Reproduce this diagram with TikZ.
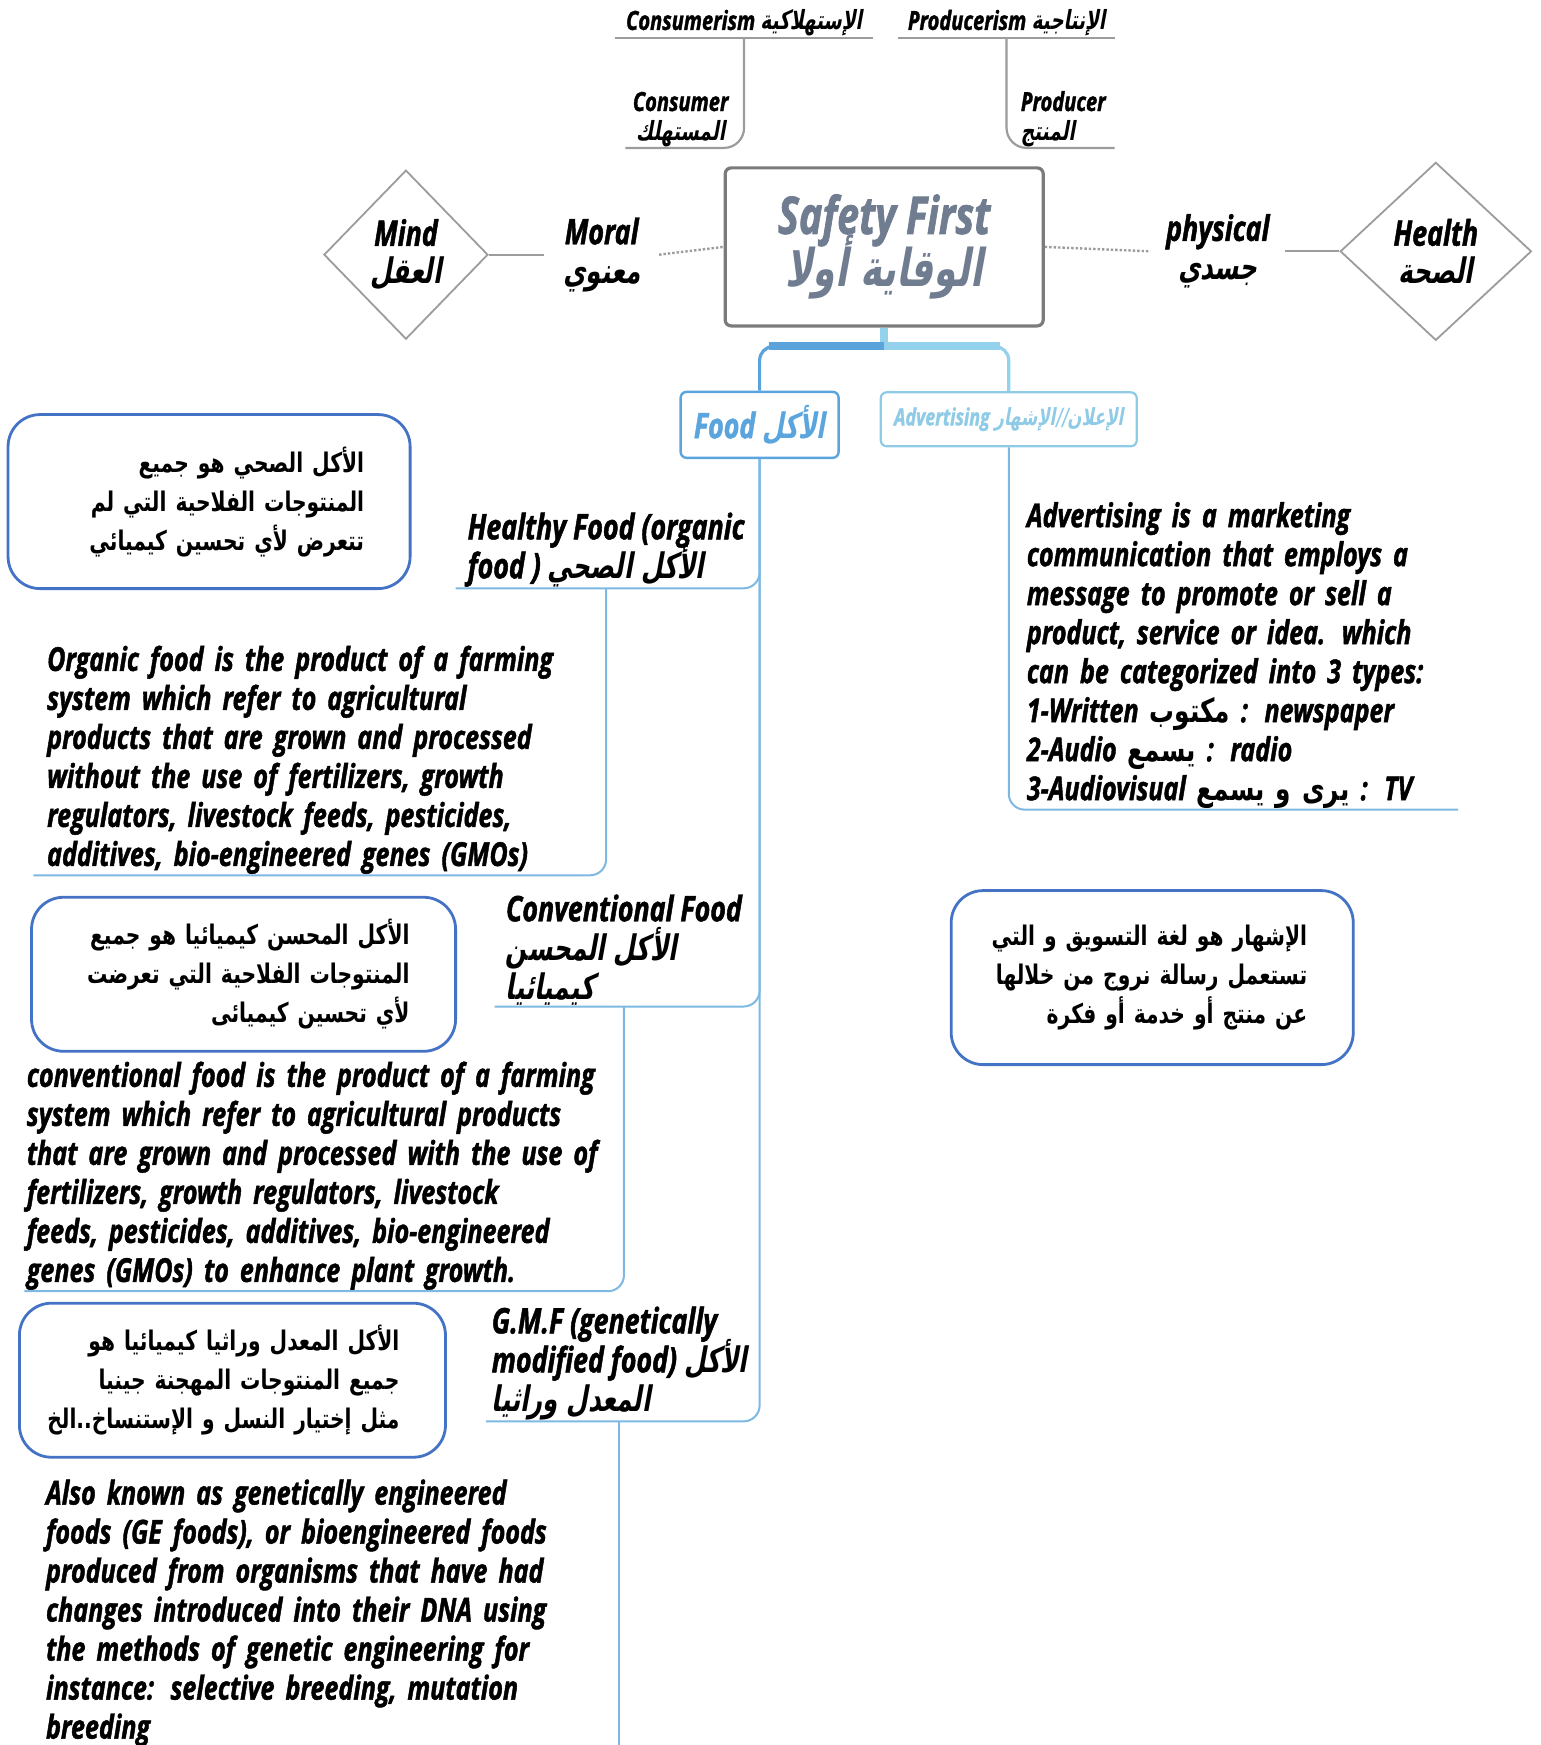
\documentclass[tikz,border=0pt]{standalone}
\usepackage{fontspec}
\usetikzlibrary{shapes.geometric,calc}
\setmainfont{Open Sans}
\newfontfamily\cond[FakeStretch=0.76,FakeBold=1.3]{Open Sans}
\newfontfamily\arabicfont[Script=Arabic,FakeStretch=0.75]{DejaVu Sans}
\newfontfamily\arabicslant[Script=Arabic,FakeSlant=0.18,FakeStretch=0.7]{DejaVu Sans}
\TeXXeTstate=1
\newcommand{\arb}[1]{{\arabicfont\bfseries\upshape\beginR #1\endR}}
\newcommand{\arsl}[1]{{\arabicslant\bfseries\upshape\beginR #1\endR}}
\newcommand{\arline}[1]{\mbox{\arb{#1}\kern17pt}}
\newcommand{\tightlines}{\lineskiplimit -20pt\relax}
\definecolor{boxblue}{HTML}{4472C4}
\definecolor{foodblue}{HTML}{5AA5DE}
\definecolor{advblue}{HTML}{8FCBE6}
\definecolor{branchblue}{HTML}{7DB9E2}
\definecolor{bardark}{HTML}{5BA4DB}
\definecolor{barlight}{HTML}{93D1EC}
\definecolor{greyline}{HTML}{9C9C9C}
\definecolor{safetygrey}{HTML}{7B7B7B}
\definecolor{safetytext}{HTML}{707D90}

\begin{document}
\begin{tikzpicture}[x=0.556pt,y=-0.556pt]
\tikzstyle{lbl} = [font={\cond\bfseries\itshape\fontsize{17.6}{19.5}\selectfont\tightlines}, align=center, inner xsep=2pt, inner ysep=0.5pt]
\tikzstyle{toplbl} = [font={\cond\bfseries\itshape\fontsize{13.2}{14.5}\selectfont\tightlines}, inner xsep=3pt, inner ysep=0.5pt]
\tikzstyle{para} = [font={\cond\bfseries\itshape\fontsize{16.5}{19.5}\selectfont\tightlines}, align=left, inner ysep=0.5pt]
\tikzstyle{arbox} = [rectangle, draw=boxblue, line width=1.4pt, rounded corners=16pt, align=right,
inner xsep=6pt, font={\fontsize{13.5}{19.5}\selectfont\tightlines}]
\tikzstyle{diam} = [diamond, draw=greyline, line width=0.9pt, inner sep=0pt, align=center,
font={\cond\bfseries\itshape\fontsize{17.6}{19}\selectfont\tightlines}]
\tikzstyle{topline} = [draw=greyline, line width=1.1pt]
\tikzstyle{branch} = [draw=branchblue, line width=1pt]
\fill[white] (0,0) rectangle (1385,1569);
\useasboundingbox (0,0) rectangle (1385,1569);

% top
\node[toplbl, anchor=south, minimum width=129pt] (consumerism) at (669,34) {Consumerism \arsl{الإستهلاكية}};
\node[toplbl, anchor=south, minimum width=108pt] (producerism) at (905,34) {Producerism \arsl{الإنتاجية}};
\node[toplbl, anchor=south, minimum width=55pt, align=center] (consumer) at (612,133) {Consumer\\\arsl{المستهلك}};
\node[toplbl, anchor=south, minimum width=51pt, align=left] (producer) at (956,133) {Producer\\\arsl{المنتج}};

% middle row
\node[rectangle, draw=safetygrey, line width=1.6pt, rounded corners=3pt, minimum width=159pt,
minimum height=79pt, align=center, text=safetytext,
font={\cond\bfseries\itshape\fontsize{26}{26.5}\selectfont\tightlines}] (safety) at (795,222) {Safety First\\\arsl{الوقاية أولا}};
\node[diam, minimum width=82pt, minimum height=84.5pt] (mind) at (365,229) {Mind\\\arsl{العقل}};
\node[lbl, minimum width=57pt] (moral) at (541,229) {Moral\\\arsl{معنوي}};
\node[lbl, minimum width=67pt] (physical) at (1095,226) {physical\\\arsl{جسدي}};
\node[diam, minimum width=95.6pt, minimum height=89pt] (health) at (1291,226) {Health\\\arsl{الصحة}};

% branches
\node[rectangle, draw=foodblue, line width=1.2pt, rounded corners=3pt, minimum width=79pt,
minimum height=33pt, text=foodblue, font={\cond\bfseries\itshape\fontsize{17.6}{20}\selectfont}] (food) at (683,382) {Food \arsl{الأكل}};
\node[rectangle, draw=advblue, line width=1.1pt, rounded corners=3pt, minimum width=128pt,
minimum height=27pt, text=advblue, font={\cond\bfseries\itshape\fontsize{11.8}{14}\selectfont}] (advert) at (907,377) {Advertising \arsl{الإعلان//الإشهار}};

% food column
\node[lbl, align=left, anchor=south, minimum width=150pt] (healthy) at (545,529) {Healthy Food (organic\\food ) \arsl{الأكل الصحي}};
\node[para, anchor=south west, inner xsep=6.7pt, text width=271pt] (organic) at (30,787) {Organic food is the product of a farming\\
system which refer to agricultural\\
products that are grown and processed\\
without the use of fertilizers, growth\\
regulators, livestock feeds, pesticides,\\
additives, bio-engineered genes (GMOs)};
\node[arbox, text width=189pt, minimum height=87pt] (arHealthy) at (188,451) {\arline{الأكل الصحي هو جميع}\\
\arline{المنتوجات الفلاحية التي لم}\\
\arline{تتعرض لأي تحسين كيميائي}};

\node[lbl, align=left, anchor=south, minimum width=129pt] (conv) at (561,905) {Conventional Food\\\arsl{الأكل المحسن}\\\arsl{كيميائيا}};
\node[para, anchor=south west, inner xsep=1pt, text width=296pt] (convText) at (22,1161) {conventional food is the product of a farming\\
system which refer to agricultural products\\
that are grown and processed with the use of\\
fertilizers, growth regulators, livestock\\
feeds, pesticides, additives, bio-engineered\\
genes (GMOs) to enhance plant growth.};
\node[arbox, text width=200pt, minimum height=77pt] (arConv) at (219,876) {\arline{الأكل المحسن كيميائيا هو جميع}\\
\arline{المنتوجات الفلاحية التي تعرضت}\\
\arline{لأي تحسين كيميائى}};

\node[lbl, align=left, anchor=south, minimum width=133pt] (gmf) at (557,1278) {G.M.F (genetically\\modified food) \arsl{الأكل}\\\arsl{المعدل وراثيا}};
\node[para, anchor=north west, inner xsep=6.7pt, text width=272pt] (gmfText) at (29,1329) {Also known as genetically engineered\\
foods (GE foods), or bioengineered foods\\
produced from organisms that have had\\
changes introduced into their DNA using\\
the methods of genetic engineering for\\
instance: selective breeding, mutation\\
breeding};
\node[arbox, text width=201pt, minimum height=77pt] (arGmf) at (209,1241) {\arline{الأكل المعدل وراثيا كيميائيا هو}\\
\arline{جميع المنتوجات المهجنة جينيا}\\
\arline{مثل إختيار النسل و الإستنساخ..الخ}};
\coordinate (gmfEnd) at (556,1580);

% advertising column
\node[para, anchor=south west, inner xsep=4.4pt, text width=211pt] (advText) at (915,728) {Advertising is a marketing\\
communication that employs a\\
message to promote or sell a\\
product, service or idea. which\\
can be categorized into 3 types:\\
1-Written \arb{مكتوب} : newspaper\\
2-Audio \arb{يسمع} : radio\\
3-Audiovisual \arb{يرى و يسمع} : TV};
\node[arbox, text width=189pt, minimum height=87pt] (arAdv) at (1036,879) {\arline{الإشهار هو لغة التسويق و التي}\\
\arline{تستعمل رسالة نروج من خلالها}\\
\arline{عن منتج أو خدمة أو فكرة}};

% connectors
\draw[topline] (consumerism.south west) -- (consumerism.south east);
\draw[topline] (producerism.south west) -- (producerism.south east);
\draw[topline, rounded corners=10pt] (consumerism.south) |- (consumer.south west);
\draw[topline, rounded corners=10pt] (producerism.south) |- (producer.south east);
\draw[greyline, line width=0.9pt] (mind.east) -- (moral.west);
\draw[greyline, line width=1.2pt, densely dotted] (moral.east) -- (safety.west);
\draw[greyline, line width=1.2pt, densely dotted] (safety.east) -- (physical.west);
\draw[greyline, line width=0.9pt] (physical.east) -- (health.west);

\coordinate (fork) at ($(safety.south)+(0,17)$);
\draw[barlight, line width=4pt] (safety.south) -- (fork);
\draw[bardark, line width=1.6pt, rounded corners=7pt] (fork) -| (food.north);
\draw[barlight, line width=1.6pt, rounded corners=7pt] (fork) -| (advert.north);
\draw[bardark, line width=4pt] (fork) -- ($(fork -| food.north)+(8,0)$);
\draw[barlight, line width=4pt] (fork) -- ($(fork -| advert.north)+(-8,0)$);

\draw[branch, rounded corners=8pt] (food.south) |- (healthy.south west);
\draw[branch, rounded corners=8pt] (food.south) |- (conv.south west);
\draw[branch, rounded corners=8pt] (food.south) |- (gmf.south west);
\draw[branch, rounded corners=8pt] (healthy.south) |- (organic.south west);
\draw[branch, rounded corners=8pt] (conv.south) |- (convText.south west);
\draw[branch] (gmf.south) -- (gmf.south |- gmfEnd);
\draw[branch, rounded corners=8pt] (advert.south) |- (advText.south east);
\end{tikzpicture}
\end{document}
